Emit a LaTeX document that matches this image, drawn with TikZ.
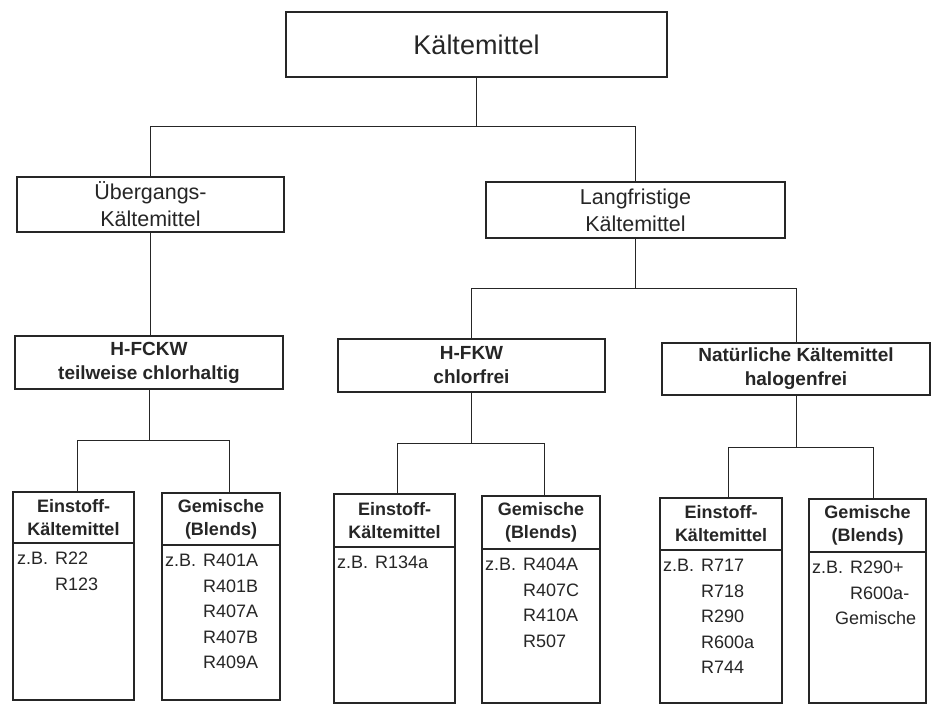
\documentclass[tikz,border=0pt]{standalone}
\usepackage{fontspec}
\setmainfont{Liberation Sans}
\newcommand\zBx{z.B.\hspace{7pt}}
\newcommand\zBsp{\phantom{z.B.}\hspace{7pt}}
\begin{document}
\begin{tikzpicture}[x=1pt,y=-1pt,
  box/.style={draw=black!85, line width=1.2pt, inner sep=0pt, outer sep=0pt, align=center, text=black!85},
  lvlA/.style={box, font=\fontsize{21.5}{27}\selectfont},
  lvlB/.style={box, font=\bfseries\fontsize{19}{24}\selectfont},
  hdr/.style={box, font=\bfseries\fontsize{18}{23}\selectfont},
  bodybox/.style={draw=black!85, line width=1.2pt, inner sep=0pt, outer sep=0pt, anchor=north},
  lst/.style={font=\fontsize{18}{25.5}\selectfont, align=left, anchor=north west, inner sep=0pt, text=black!85},
  conn/.style={draw=black!85, line width=0.9pt}]
\useasboundingbox[fill=white] (0,0) rectangle (933,706);

% level 0
\node[box, font=\fontsize{27}{32}\selectfont, minimum width=381pt, minimum height=65pt] (root) at (476.5,44.5) {Kältemittel};
% level 1
\node[lvlA, minimum width=267pt, minimum height=55pt] (ueb) at (150.5,204.5) {Übergangs-\\Kältemittel};
\node[lvlA, minimum width=299pt, minimum height=56pt] (lang) at (635.5,210) {Langfristige\\Kältemittel};
% level 2
\node[lvlB, minimum width=268pt, minimum height=53pt] (hfckw) at (149,362.5) {H-FCKW\\teilweise chlorhaltig};
\node[lvlB, minimum width=267pt, minimum height=53pt] (hfkw) at (471.5,365.5) {H-FKW\\chlorfrei};
\node[lvlB, minimum width=268pt, minimum height=52pt] (nat) at (796,369) {Natürliche Kältemittel\\halogenfrei};
% level 3 headers
\node[hdr, minimum width=121pt, minimum height=51pt] (e1) at (73.5,517.5) {Einstoff-\\Kältemittel};
\node[hdr, minimum width=118pt, minimum height=52pt] (g1) at (221,519) {Gemische\\(Blends)};
\node[hdr, minimum width=121pt, minimum height=53pt] (e2) at (394.5,520.5) {Einstoff-\\Kältemittel};
\node[hdr, minimum width=118pt, minimum height=53pt] (g2) at (541,522.5) {Gemische\\(Blends)};
\node[hdr, minimum width=122pt, minimum height=52pt] (e3) at (721,524) {Einstoff-\\Kältemittel};
\node[hdr, minimum width=117pt, minimum height=53pt] (g3) at (867.5,525.5) {Gemische\\(Blends)};
% level 3 bodies
\node[bodybox, minimum width=121pt, minimum height=157pt] (l1) at (e1.south) {};
\node[bodybox, minimum width=118pt, minimum height=155pt] (l2) at (g1.south) {};
\node[bodybox, minimum width=121pt, minimum height=156pt] (l3) at (e2.south) {};
\node[bodybox, minimum width=118pt, minimum height=154pt] (l4) at (g2.south) {};
\node[bodybox, minimum width=122pt, minimum height=153pt] (l5) at (e3.south) {};
\node[bodybox, minimum width=117pt, minimum height=151pt] (l6) at (g3.south) {};
% lists
\node[lst] (t1) at ([shift={(4,9)}]l1.north west) {\zBx R22\\\zBsp R123};
\node[lst] (t2) at ([shift={(3,9)}]l2.north west) {\zBx R401A\\\zBsp R401B\\\zBsp R407A\\\zBsp R407B\\\zBsp R409A};
\node[lst] (t3) at ([shift={(3,9)}]l3.north west) {\zBx R134a};
\node[lst] (t4) at ([shift={(3,9)}]l4.north west) {\zBx R404A\\\zBsp R407C\\\zBsp R410A\\\zBsp R507};
\node[lst] (t5) at ([shift={(3,9)}]l5.north west) {\zBx R717\\\zBsp R718\\\zBsp R290\\\zBsp R600a\\\zBsp R744};
\node[lst] (t6) at ([shift={(3,9)}]l6.north west) {\zBx R290+\\\zBsp R600a-\\\zBsp\hspace{-15pt}Gemische};

% junction levels
\coordinate (j0) at (0,126);
\coordinate (j1) at (0,288);
\coordinate (j2) at (0,440);
\coordinate (j3) at (0,443);
\coordinate (j4) at (0,447);
% stem end points on the lower boxes
\coordinate (e1t) at ([xshift=3.5pt]e1.north);
\coordinate (g1t) at ([xshift=8pt]g1.north);
\coordinate (e2t) at ([xshift=2.5pt]e2.north);
\coordinate (g2t) at ([xshift=3pt]g2.north);
\coordinate (e3t) at ([xshift=7pt]e3.north);
\coordinate (g3t) at ([xshift=5.5pt]g3.north);

% connectors
\draw[conn] (root.south) -- (root.south |- j0);
\draw[conn] (ueb.north) |- (lang.north |- j0) -- (lang.north);
\draw[conn] (ueb.south) -- (ueb.south |- hfckw.north);
\draw[conn] (lang.south) -- (lang.south |- j1);
\draw[conn] (hfkw.north) |- (nat.north |- j1) -- (nat.north);
\draw[conn] (hfckw.south) -- (hfckw.south |- j2);
\draw[conn] (e1t) |- (g1t |- j2) -- (g1t);
\draw[conn] (hfkw.south) -- (hfkw.south |- j3);
\draw[conn] (e2t) |- (g2t |- j3) -- (g2t);
\draw[conn] (nat.south) -- (nat.south |- j4);
\draw[conn] (e3t) |- (g3t |- j4) -- (g3t);
\end{tikzpicture}
\end{document}
